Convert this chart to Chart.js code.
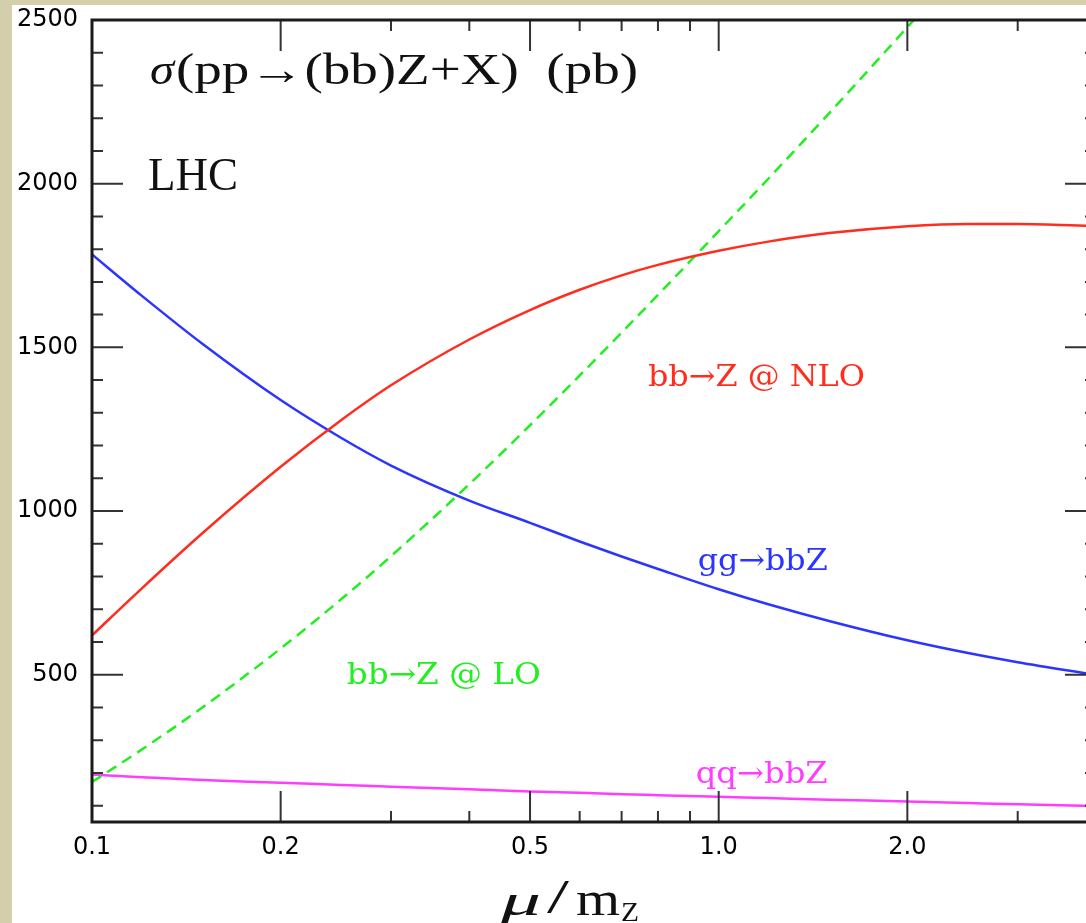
<!DOCTYPE html>
<html>
<head>
<meta charset="utf-8">
<script src="https://cdn.jsdelivr.net/npm/chart.js@4.4.1/dist/chart.umd.min.js"></script>
<style>
  html, body { margin: 0; padding: 0; overflow: hidden; background: #d3cfac; }
  #wrap { position: absolute; left: 0; top: 0; width: 1110px; height: 923px; }
</style>
</head>
<body>
<div id="wrap"><canvas id="xsec" width="1110" height="923"></canvas></div>
<script>
// mu / m_Z sample points and cross sections (pb)
const mu = [0.1, 0.12, 0.15, 0.2, 0.25, 0.3, 0.4, 0.5, 0.6, 0.7, 0.8, 1.0, 1.2, 1.5, 2.0, 2.5, 3.0, 4.0];
const bbZ_NLO = [620, 763, 932, 1135, 1278, 1384, 1524, 1614, 1676, 1720, 1752, 1795, 1823, 1849, 1870, 1877, 1877, 1870];
const ggbbZ   = [1784, 1658, 1511, 1339, 1223, 1139, 1032, 964, 907, 861, 823, 761, 715, 664, 605, 566, 538, 499];
const bbZ_LO  = [172, 271, 400, 580, 731, 862, 1082, 1262, 1414, 1545, 1660, 1855, 2015, 2215, 2478, 2686, null, null];
const qqbbZ   = [195, 187, 178, 170, 163, 158, 150, 143, 139, 135, 132, 127, 123, 118, 113, 108, 104, 99];

const curveNames = ['bb\u2192Z @ NLO', 'gg\u2192bbZ', 'bb\u2192Z @ LO', 'qq\u2192bbZ'];
const curveColors = ['#ff2d1e', '#2b35ff', '#22ee22', '#ff3dff'];

// axis ticks
const xMajor = [0.1, 0.2, 0.5, 1, 2];
const xTickLabels = ['0.1', '0.2', '0.5', '1.0', '2.0'];
const xMinor = [0.3, 0.4, 0.6, 0.7, 0.8, 0.9, 3, 4];
const yMajor = [500, 1000, 1500, 2000, 2500];
const yTickLabels = ['500', '1000', '1500', '2000', '2500'];

const yTicks = [];
for (let v = 100; v <= 2500; v += 100) yTicks.push(v);
const xTicks = xMajor.concat(xMinor).sort((a, b) => a - b);

function series(values) {
    return mu.map((m, i) => ({ x: m, y: values[i] }));
}

const paper = {
    id: 'paper',
    beforeDraw(chart) {
        const ctx = chart.ctx;
        ctx.save();
        ctx.fillStyle = '#d3cfac';
        ctx.fillRect(0, 0, chart.width, chart.height);
        ctx.fillStyle = '#ffffff';
        ctx.fillRect(12, 5, chart.width - 12, chart.height - 5);
        ctx.restore();
    }
};

// draw text squeezed/stretched to a given width (the original uses wide TeX fonts)
function stretchText(ctx, text, x, y, width) {
    const w = ctx.measureText(text).width;
    ctx.save();
    ctx.translate(x, y);
    ctx.scale(width / w, 1);
    ctx.fillText(text, 0, 0);
    ctx.restore();
}

const frame = {
    id: 'frame',
    afterDatasetsDraw(chart, args, opts) {
        const { ctx, chartArea: a, scales: { x, y } } = chart;
        ctx.save();

        // inward ticks on all four sides
        ctx.strokeStyle = '#333';
        ctx.lineWidth = 2;
        ctx.beginPath();
        xTicks.forEach(v => {
            const px = x.getPixelForValue(v);
            const len = xMajor.includes(v) ? 31 : 11;
            ctx.moveTo(px, a.bottom); ctx.lineTo(px, a.bottom - len);
            ctx.moveTo(px, a.top); ctx.lineTo(px, a.top + len);
        });
        yTicks.forEach(v => {
            const py = y.getPixelForValue(v);
            const len = yMajor.includes(v) ? 31 : 11;
            ctx.moveTo(a.left, py); ctx.lineTo(a.left + len, py);
            ctx.moveTo(a.right, py); ctx.lineTo(a.right - len, py);
        });
        ctx.stroke();

        ctx.strokeStyle = '#1b1b1b';
        ctx.lineWidth = 3;
        ctx.strokeRect(a.left, a.top, a.right - a.left, a.bottom - a.top);

        // curve labels, placed in data coordinates
        ctx.font = '30px "DejaVu Serif"';
        ctx.textBaseline = 'alphabetic';
        ctx.textAlign = 'left';
        opts.labels.forEach((lab, i) => {
            ctx.fillStyle = curveColors[i];
            stretchText(ctx, curveNames[i], x.getPixelForValue(lab.x), y.getPixelForValue(lab.y), lab.w);
        });

        // title and collider
        ctx.fillStyle = '#111';
        ctx.font = 'italic 44px "Liberation Serif"';
        stretchText(ctx, '\u03c3', a.left + 58, a.top + 64, 24);
        ctx.font = '44px "Liberation Serif"';
        stretchText(ctx, '(pp\u2192(bb)Z+X)  (pb)', a.left + 84, a.top + 64, 462);
        ctx.font = '46px "Liberation Serif"';
        stretchText(ctx, 'LHC', a.left + 56, a.top + 170, 90);

        // x axis title  mu / m_Z
        const base = 915;
        ctx.font = 'italic 44px "Liberation Serif"';
        stretchText(ctx, '\u03bc', 501, base, 40);
        ctx.font = '48px "Liberation Serif"';
        stretchText(ctx, '/', 547, base - 2, 22);
        stretchText(ctx, 'm', 576, base, 44);
        ctx.font = '28px "Liberation Serif"';
        stretchText(ctx, 'Z', 621, base + 6, 18);

        ctx.restore();
    }
};

new Chart('xsec', {
    type: 'line',
    data: {
        datasets: [
            { label: curveNames[0], data: series(bbZ_NLO), borderColor: curveColors[0] },
            { label: curveNames[1], data: series(ggbbZ), borderColor: curveColors[1] },
            { label: curveNames[2], data: series(bbZ_LO), borderColor: curveColors[2], borderDash: [11, 7] },
            { label: curveNames[3], data: series(qqbbZ), borderColor: curveColors[3] }
        ]
    },
    options: {
        responsive: false,
        animation: false,
        layout: { padding: { left: 0, top: 20, right: 14, bottom: 0 } },
        elements: {
            point: { radius: 0 },
            line: { borderWidth: 2.5, cubicInterpolationMode: 'monotone', fill: false }
        },
        datasets: { line: { clip: 0 } },
        plugins: {
            legend: { display: false },
            tooltip: { enabled: false },
            frame: {
                labels: [
                    { x: 0.771, y: 1381, w: 217 },
                    { x: 0.926, y: 820, w: 130 },
                    { x: 0.255, y: 473, w: 194 },
                    { x: 0.919, y: 168, w: 132 }
                ]
            }
        },
        scales: {
            x: {
                type: 'logarithmic',
                min: 0.1,
                max: 4,
                grid: { display: false, drawTicks: false },
                border: { display: false },
                afterBuildTicks: s => { s.ticks = xTicks.map(v => ({ value: v })); },
                afterFit: s => { s.height = 101; s.paddingLeft = 0; s.paddingRight = 0; },
                ticks: {
                    autoSkip: false,
                    maxRotation: 0,
                    padding: 11,
                    color: '#000',
                    font: { family: 'DejaVu Sans', size: 24 },
                    callback: v => {
                        const i = xMajor.indexOf(v);
                        return i >= 0 ? xTickLabels[i] : '';
                    }
                }
            },
            y: {
                type: 'linear',
                min: 50,
                max: 2500,
                grid: { display: false, drawTicks: false },
                border: { display: false },
                afterBuildTicks: s => { s.ticks = yTicks.map(v => ({ value: v })); },
                afterFit: s => { s.width = 92; s.paddingTop = 0; s.paddingBottom = 0; },
                ticks: {
                    autoSkip: false,
                    padding: 14,
                    color: '#000',
                    font: { family: 'DejaVu Sans', size: 24 },
                    callback: v => {
                        const i = yMajor.indexOf(v);
                        return i >= 0 ? yTickLabels[i] : '';
                    }
                }
            }
        }
    },
    plugins: [paper, frame]
});
</script>
</body>
</html>
